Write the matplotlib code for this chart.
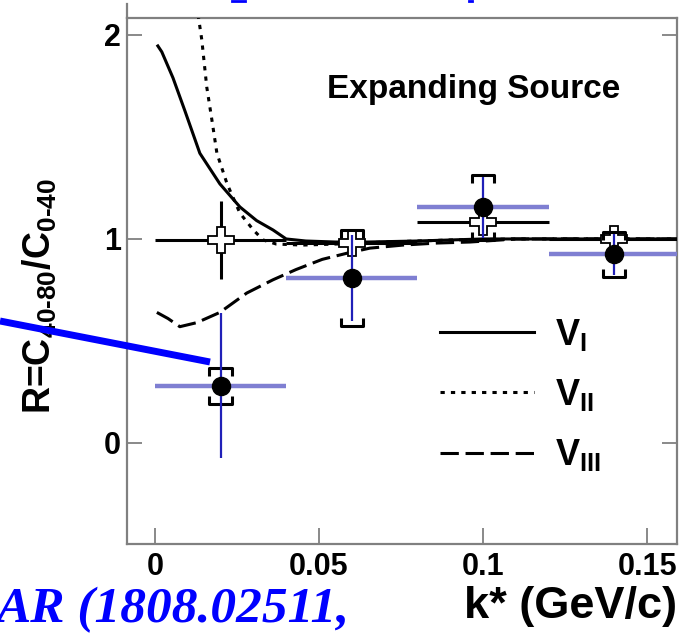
import matplotlib
matplotlib.use("Agg")
import matplotlib.pyplot as plt
from matplotlib.lines import Line2D

plt.rcParams['font.family'] = ['Liberation Sans', 'DejaVu Sans']
plt.rcParams['font.weight'] = 'bold'
plt.rcParams['mathtext.fontset'] = 'custom'
plt.rcParams['mathtext.rm'] = 'Liberation Sans:bold'
plt.rcParams['mathtext.it'] = 'Liberation Sans:bold'
plt.rcParams['mathtext.bf'] = 'Liberation Sans:bold'
plt.rcParams['mathtext.sf'] = 'Liberation Sans:bold'

# datos medidos (puntos negros con errores azules)
k = [0.02, 0.06, 0.10, 0.14]
k_err = [0.02, 0.02, 0.02, 0.02]
R = [0.28, 0.81, 1.155, 0.925]
R_stat = [0.355, 0.21, 0.15, 0.10]
R_sys = [0.088, 0.235, 0.16, 0.11]

# cruces abiertas
k_ref = [0.02, 0.06, 0.10, 0.14]
R_ref = [0.995, 0.98, 1.085, 1.0]
R_ref_err = [0.19, 0.03, 0.03, 0.02]

# curvas del modelo
k_v1 = [0.0009, 0.0021, 0.0055, 0.0091, 0.0137, 0.0198, 0.0259, 0.031, 0.036, 0.040,
        0.046, 0.055, 0.065, 0.080, 0.100, 0.130, 0.160]
v1 = [1.946, 1.917, 1.79, 1.63, 1.42, 1.27, 1.157, 1.09, 1.044, 1.00,
      0.99, 0.985, 0.985, 0.99, 1.0, 1.0, 1.0]
k_v2 = [0.0127, 0.0143, 0.0158, 0.0174, 0.0189, 0.022, 0.0259, 0.030, 0.033, 0.037,
        0.045, 0.055, 0.070, 0.090, 0.110, 0.160]
v2 = [2.15, 1.975, 1.745, 1.58, 1.42, 1.27, 1.127, 1.044, 0.995, 0.975,
      0.97, 0.975, 0.985, 0.995, 1.0, 1.0]
k_v3 = [0.0006, 0.004, 0.0076, 0.0128, 0.0198, 0.028, 0.036, 0.043, 0.051, 0.0585,
        0.0655, 0.0756, 0.086, 0.096, 0.110, 0.160]
v3 = [0.64, 0.61, 0.57, 0.59, 0.64, 0.735, 0.80, 0.85, 0.90, 0.93,
      0.955, 0.97, 0.98, 0.985, 1.0, 1.0]

x_ticks = [0, 0.05, 0.1, 0.15]
x_tick_labels = ['0', '0.05', '0.1', '0.15']
y_ticks = [0, 1, 2]
y_tick_labels = ['0', '1', '2']

fig = plt.figure(figsize=(6.81, 6.34), dpi=100)
ax = fig.add_axes([0.1865, 0.142, 0.8076, 0.8296])

lw = 2.2
l1, = ax.plot(k_v1, v1, color='black', lw=lw, zorder=3)
l2, = ax.plot(k_v2, v2, color='black', lw=lw, linestyle=(0, (1.4, 2.0)), zorder=3)
l3, = ax.plot(k_v3, v3, color='black', lw=lw, linestyle=(0, (6, 2.2)), zorder=3)

# cruces abiertas con sus barras
ax.errorbar(k_ref, R_ref, xerr=k_err, yerr=R_ref_err, fmt='none',
            ecolor='black', elinewidth=2.2, capsize=0, zorder=4)
ax.plot(k_ref, R_ref, linestyle='none', marker='P', markersize=19,
        markerfacecolor='white', markeredgecolor='black', markeredgewidth=1.3, zorder=5)

# errores sistematicos como corchetes
w = 0.0034
h = 0.04
for xi, yi, si in zip(k, R, R_sys):
    top = yi + si
    bot = yi - si
    ax.plot([xi - w, xi - w, xi + w, xi + w], [top - h, top, top, top - h],
            color='black', lw=2.2, zorder=6, solid_capstyle='butt')
    ax.plot([xi - w, xi - w, xi + w, xi + w], [bot + h, bot, bot, bot + h],
            color='black', lw=2.2, zorder=6, solid_capstyle='butt')

# barras azules
ax.errorbar(k, R, xerr=k_err, fmt='none', ecolor='#7f7fd2', elinewidth=3.2,
            capsize=0, zorder=6)
ax.errorbar(k, R, yerr=R_stat, fmt='none', ecolor='#2020b8', elinewidth=1.6,
            capsize=0, zorder=7)
ax.plot(k, R, linestyle='none', marker='o', markersize=13, color='black', zorder=8)

ax.set_xlim(-0.0085, 0.1591)
ax.set_ylim(-0.495, 2.083)

ax.set_xticks(x_ticks)
ax.set_xticklabels(x_tick_labels)
ax.set_yticks(y_ticks)
ax.set_yticklabels(y_tick_labels)
ax.tick_params(axis='x', direction='in', length=11.5, width=1.3, color='#808080',
               labelsize=22, pad=6, top=False)
ax.tick_params(axis='y', direction='in', length=10.5, width=1.3, color='#808080',
               labelsize=22, pad=4.5, right=True)
for sp in ax.spines.values():
    sp.set_color('#808080')
    sp.set_linewidth(1.6)

ax.set_ylabel(r'$\text{R=C}_{\text{40-80}}\text{/C}_{\text{0-40}}$', fontsize=27)
ax.yaxis.set_label_coords(-0.124, 0.4715)
ax.set_xlabel('k* (GeV/c)', fontsize=32.5, fontweight='bold', loc='right', labelpad=3)

ax.text(0.63, 0.865, 'Expanding Source', transform=ax.transAxes,
        ha='center', va='center', fontsize=24, fontweight='bold')

ax.legend([l1, l2, l3], [r'$V_{I}$', r'$V_{II}$', r'$V_{III}$'],
          loc='center left', bbox_to_anchor=(0.536, 0.283), frameon=False,
          fontsize=26, handlelength=2.6, handletextpad=0.6, labelspacing=0.67,
          borderpad=0)

# anotaciones de la diapositiva
fig.add_artist(Line2D([0, 210 / 681], [1 - 321 / 634, 1 - 362 / 634],
                      color='#0000ff', lw=5, solid_capstyle='butt', zorder=20))
fig.text(350 / 681, 1 - 622 / 634, 'AR (1808.02511,', ha='right', va='baseline',
         family='Liberation Serif', fontweight='bold', style='italic',
         fontsize=37, color='#0000ff')
fig.add_artist(Line2D([232 / 681, 245 / 681], [1 - 1 / 634, 1 - 1 / 634],
                      color='#0000ff', lw=2))
fig.add_artist(Line2D([469 / 681, 472 / 681], [1 - 1 / 634, 1 - 1 / 634],
                      color='#0000ff', lw=2))
fig.add_artist(Line2D([127 / 681, 127 / 681], [1 - 4 / 634, 1 - 18 / 634],
                      color='#808080', lw=1.6))

plt.savefig('out.png', dpi=100)
